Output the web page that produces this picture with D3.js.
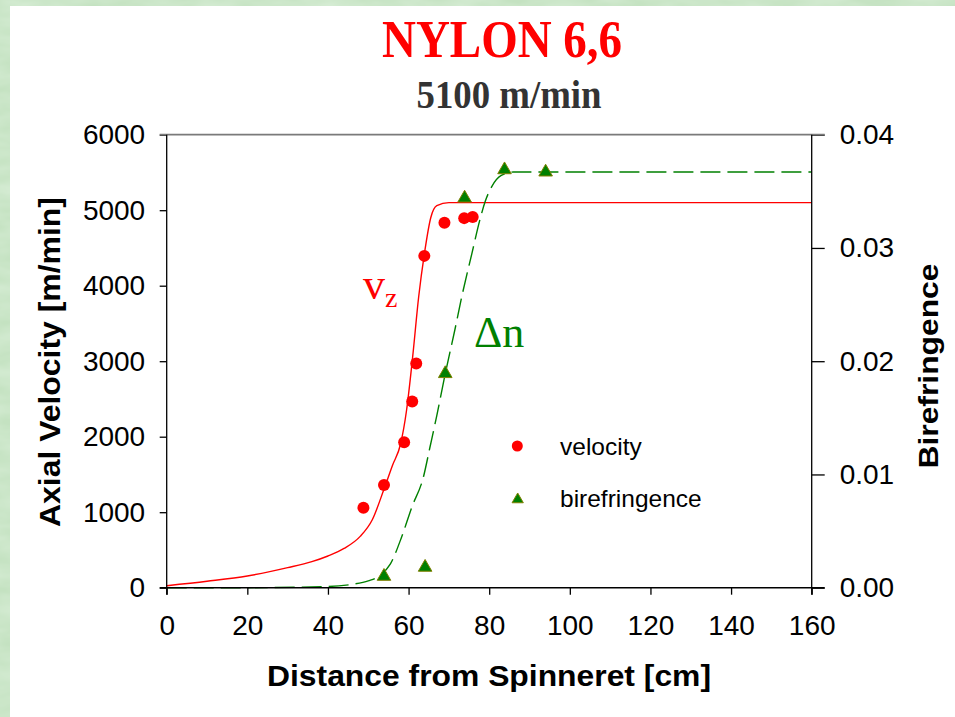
<!DOCTYPE html>
<html>
<head>
<meta charset="utf-8">
<script src="https://cdn.jsdelivr.net/npm/d3@7"></script>
<style>
  html, body { margin: 0; padding: 0; background: #ffffff; }
  svg { display: block; }
</style>
</head>
<body>
<div id="chart"></div>
<script>
// ---------------- data ----------------
const titleText = "NYLON 6,6";
const subtitleText = "5100 m/min";
const xTitle = "Distance from Spinneret [cm]";
const yLeftTitle = "Axial Velocity [m/min]";
const yRightTitle = "Birefringence";

const xTicks = [0, 20, 40, 60, 80, 100, 120, 140, 160];
const yLeftTicks = [0, 1000, 2000, 3000, 4000, 5000, 6000];
const yRightTicks = [0.00, 0.01, 0.02, 0.03, 0.04];

// measured velocity (red dots)
const velDist = [48.8, 53.9, 58.9, 60.9, 61.9, 63.9, 68.9, 73.8, 75.9];
const velValue = [1060, 1360, 1925, 2465, 2970, 4395, 4835, 4895, 4910];

// measured birefringence (green triangles)
const biDist = [53.9, 64.1, 69.1, 73.9, 83.8, 94.0];
const biValue = [0.0010, 0.0018, 0.0189, 0.0344, 0.0369, 0.0367];

// velocity model curve (red solid)
const velFitDist = [0, 10, 20, 30, 36, 40, 44, 48, 51, 54, 56, 58, 59.5, 61, 62.5, 64, 65.5, 67, 70, 160];
const velFitValue = [26, 85, 155, 265, 345, 420, 520, 680, 900, 1320, 1620, 1900, 2350, 3050, 3850, 4450, 4900, 5060, 5100, 5100];

// birefringence model curve (green dashed)
const biFitDist = [0, 20, 40, 46, 50, 53, 55.5, 58.3, 60.8, 63.7, 65.3, 67, 69.1, 71.5, 73.2, 75.7, 77.7, 79, 80.6, 83, 86, 160];
const biFitValue = [0, 0, 0.0001, 0.0003, 0.0006, 0.0011, 0.0021, 0.0045, 0.0071, 0.0098, 0.0124, 0.0152, 0.0189, 0.0228, 0.0257, 0.0295, 0.0325, 0.0341, 0.0354, 0.0364, 0.0367, 0.0367];

const legendLabels = ["velocity", "birefringence"];

// ---------------- layout ----------------
const W = 955, H = 717;
const plot = { left: 166.7, right: 811.7, top: 134.7, bottom: 587.7 };
const SANS = "'Liberation Sans', Arial, sans-serif";
const SERIF = "'Liberation Serif', 'Times New Roman', serif";
const RED = "#ff0000", GREEN = "#008000";

const svg = d3.select("#chart").append("svg").attr("width", W).attr("height", H);

// background frame with soft texture
const defs = svg.append("defs");
const f = defs.append("filter").attr("id", "tex").attr("x", 0).attr("y", 0).attr("width", "100%").attr("height", "100%");
f.append("feTurbulence").attr("type", "fractalNoise").attr("baseFrequency", "0.02 0.06").attr("numOctaves", 3).attr("seed", 4).attr("result", "n");
f.append("feColorMatrix").attr("in", "n").attr("type", "matrix")
  .attr("values", "0 0 0 0 0.70  0 0 0 0 0.86  0 0 0 0 0.69  0 0 0 -1.2 0.9");
svg.append("rect").attr("width", W).attr("height", H).attr("fill", "#c4e2c1");
svg.append("rect").attr("width", W).attr("height", H).attr("filter", "url(#tex)");
svg.append("rect").attr("x", 10).attr("y", 6).attr("width", W - 10).attr("height", H - 6).attr("fill", "#ffffff");

// ---------------- scales ----------------
const x = d3.scaleLinear().domain([0, 160]).range([plot.left, plot.right]);
const yL = d3.scaleLinear().domain([0, 6000]).range([plot.bottom, plot.top]);
const yR = d3.scaleLinear().domain([0, 0.04]).range([plot.bottom, plot.top]);

// ---------------- titles ----------------
svg.append("text").attr("x", 502).attr("y", 57).attr("text-anchor", "middle")
  .attr("font-family", SERIF).attr("font-weight", "bold").attr("font-size", 52)
  .attr("fill", RED).attr("textLength", 240).attr("lengthAdjust", "spacingAndGlyphs").text(titleText);
svg.append("text").attr("x", 509).attr("y", 108).attr("text-anchor", "middle")
  .attr("font-family", SERIF).attr("font-weight", "bold").attr("font-size", 40)
  .attr("fill", "#333333").attr("textLength", 185).attr("lengthAdjust", "spacingAndGlyphs").text(subtitleText);

// ---------------- curves ----------------
const g = svg.append("g");
const velLine = d3.line().x((d, i) => x(velFitDist[i])).y(d => yL(d)).curve(d3.curveMonotoneX);
g.append("path").attr("d", velLine(velFitValue)).attr("fill", "none")
  .attr("stroke", RED).attr("stroke-width", 1.4);
const biLine = d3.line().x((d, i) => x(biFitDist[i])).y(d => yR(d)).curve(d3.curveMonotoneX);
g.append("path").attr("d", biLine(biFitValue)).attr("fill", "none")
  .attr("stroke", GREEN).attr("stroke-width", 1.4).attr("stroke-dasharray", "20 7");

// ---------------- axes ----------------
const axisStyle = sel => {
  sel.selectAll("text").attr("font-family", SANS).attr("font-size", 28).attr("fill", "#000");
  sel.selectAll("line").attr("stroke", "#000").attr("stroke-width", 1.3);
  sel.select(".domain").remove();
};
svg.append("g").attr("transform", `translate(0,${plot.bottom})`)
  .call(d3.axisBottom(x).tickValues(xTicks).tickSize(7).tickPadding(20).tickFormat(d3.format("d")))
  .call(axisStyle);
svg.append("g").attr("transform", `translate(${plot.left},0)`)
  .call(d3.axisLeft(yL).tickValues(yLeftTicks).tickSize(7).tickPadding(14.5).tickFormat(d3.format("d")))
  .call(axisStyle);
svg.append("g").attr("transform", `translate(${plot.right},0)`)
  .call(d3.axisRight(yR).tickValues(yRightTicks).tickSize(13).tickPadding(15).tickFormat(d3.format(".2f")))
  .call(axisStyle);

// frame lines
svg.append("line").attr("x1", plot.left - 7).attr("x2", plot.right + 13).attr("y1", plot.top).attr("y2", plot.top)
  .attr("stroke", "#7a7a7a").attr("stroke-width", 1.8);
svg.append("line").attr("x1", plot.left - 7).attr("x2", plot.right + 13).attr("y1", plot.bottom).attr("y2", plot.bottom)
  .attr("stroke", "#000").attr("stroke-width", 1.5);
svg.append("line").attr("x1", plot.left).attr("x2", plot.left).attr("y1", plot.top).attr("y2", plot.bottom + 7)
  .attr("stroke", "#000").attr("stroke-width", 1.3);
svg.append("line").attr("x1", plot.right).attr("x2", plot.right).attr("y1", plot.top).attr("y2", plot.bottom + 7)
  .attr("stroke", "#000").attr("stroke-width", 1.3);

// ---------------- markers ----------------
const tri = d3.symbol().type(d3.symbolTriangle).size(80);
svg.append("g").selectAll("circle").data(velValue).join("circle")
  .attr("cx", (d, i) => x(velDist[i])).attr("cy", d => yL(d)).attr("r", 6).attr("fill", RED);
svg.append("g").selectAll("path").data(biValue).join("path")
  .attr("d", tri).attr("transform", (d, i) => `translate(${x(biDist[i])},${yR(d)})`)
  .attr("fill", GREEN).attr("stroke", "#808000").attr("stroke-width", 1);

// ---------------- axis titles ----------------
svg.append("text").attr("x", 489).attr("y", 686).attr("text-anchor", "middle")
  .attr("font-family", SANS).attr("font-weight", "bold").attr("font-size", 30)
  .attr("textLength", 444).attr("lengthAdjust", "spacingAndGlyphs").text(xTitle);
svg.append("text").attr("transform", "translate(60,362) rotate(-90)").attr("text-anchor", "middle")
  .attr("font-family", SANS).attr("font-weight", "bold").attr("font-size", 30)
  .attr("textLength", 330).attr("lengthAdjust", "spacingAndGlyphs").text(yLeftTitle);
svg.append("text").attr("transform", "translate(938,366) rotate(-90)").attr("text-anchor", "middle")
  .attr("font-family", SANS).attr("font-weight", "bold").attr("font-size", 28)
  .attr("textLength", 205).attr("lengthAdjust", "spacingAndGlyphs").text(yRightTitle);

// ---------------- curve labels ----------------
const vz = svg.append("text").attr("x", 363).attr("y", 299).attr("font-family", SERIF).attr("fill", RED).attr("font-size", 44);
vz.append("tspan").text("v");
vz.append("tspan").attr("font-size", 28).attr("dy", 8).text("z");
svg.append("text").attr("x", 474).attr("y", 347).attr("font-family", SERIF).attr("fill", GREEN)
  .attr("font-size", 44).text("\u0394n");

// ---------------- legend ----------------
const leg = svg.append("g");
leg.append("circle").attr("cx", 517.3).attr("cy", 446).attr("r", 5.5).attr("fill", RED);
leg.append("path").attr("d", d3.symbol().type(d3.symbolTriangle).size(55))
  .attr("transform", "translate(517.7,499.5)").attr("fill", GREEN).attr("stroke", "#808000").attr("stroke-width", 1);
leg.append("text").attr("x", 560).attr("y", 455).attr("font-family", SANS).attr("font-size", 24.5).text(legendLabels[0]);
leg.append("text").attr("x", 560).attr("y", 507).attr("font-family", SANS).attr("font-size", 24.5).text(legendLabels[1]);
</script>
</body>
</html>
